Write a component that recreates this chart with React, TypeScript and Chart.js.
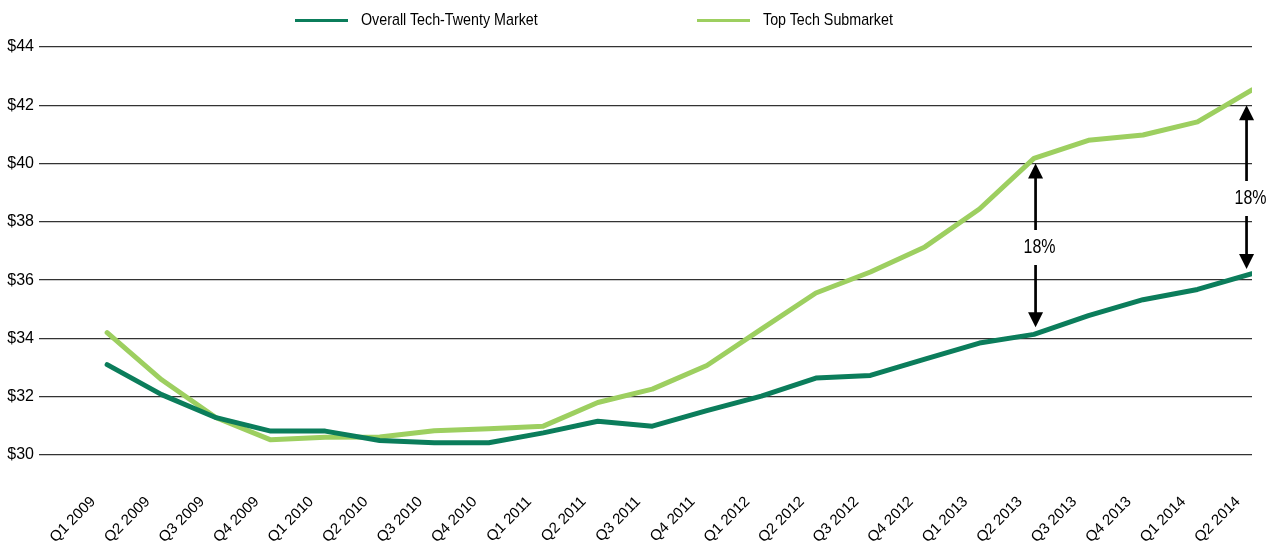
import React, { useEffect, useRef } from 'react';
import { Chart, registerables } from 'chart.js';

Chart.register(...registerables);

const quarters = [
  'Q1 2009', 'Q2 2009', 'Q3 2009', 'Q4 2009',
  'Q1 2010', 'Q2 2010', 'Q3 2010', 'Q4 2010',
  'Q1 2011', 'Q2 2011', 'Q3 2011', 'Q4 2011',
  'Q1 2012', 'Q2 2012', 'Q3 2012', 'Q4 2012',
  'Q1 2013', 'Q2 2013', 'Q3 2013', 'Q4 2013',
  'Q1 2014', 'Q2 2014',
];

const overallTechTwenty = [
  33.1, 32.07, 31.28, 30.82, 30.82, 30.5, 30.42, 30.42,
  30.76, 31.16, 30.99, 31.52, 32.02, 32.64, 32.73, 33.29,
  33.84, 34.14, 34.78, 35.33, 35.68, 36.22,
];

const topTechSubmarket = [
  34.2, 32.58, 31.28, 30.52, 30.61, 30.62, 30.83, 30.9,
  30.99, 31.8, 32.26, 33.07, 34.32, 35.56, 36.28, 37.14,
  38.44, 40.18, 40.8, 40.98, 41.43, 42.53,
];

const yTickValues = [30, 32, 34, 36, 38, 40, 42, 44];

const seriesNames = ['Overall Tech-Twenty Market', 'Top Tech Submarket'];
const seriesColors = ['#0b7d5b', '#9dcf60'];

// gap annotations (in data units)
const arrowIndex = [17.03, 20.9];
const arrowLow = [34.38, 36.38];
const arrowHigh = [40.0, 42.0];
const arrowLabelValue = [37.17, 38.85];
const arrowLabels = ['18%', '18%'];

const FONT = '"Liberation Sans", Arial, sans-serif';

const arrowPlugin = {
  id: 'gapArrows',
  afterDatasetsDraw(chart: any) {
    const { ctx, scales } = chart;
    const x = scales.x;
    const y = scales.y;
    ctx.save();
    ctx.strokeStyle = '#000';
    ctx.fillStyle = '#000';
    ctx.lineWidth = 2.7;
    ctx.font = `20px ${FONT}`;
    ctx.textAlign = 'center';
    ctx.textBaseline = 'middle';
    arrowIndex.forEach((idx, i) => {
      const px = x.getPixelForValue(idx);
      const top = y.getPixelForValue(arrowHigh[i]);
      const bot = y.getPixelForValue(arrowLow[i]);
      const ly = y.getPixelForValue(arrowLabelValue[i]);
      const head = 15;
      const halfW = 7.5;
      ctx.beginPath();
      ctx.moveTo(px, top + head - 1);
      ctx.lineTo(px, ly - 16);
      ctx.moveTo(px, ly + 19);
      ctx.lineTo(px, bot - head + 1);
      ctx.stroke();
      ctx.beginPath();
      ctx.moveTo(px, top);
      ctx.lineTo(px - halfW, top + head);
      ctx.lineTo(px + halfW, top + head);
      ctx.closePath();
      ctx.fill();
      ctx.beginPath();
      ctx.moveTo(px, bot);
      ctx.lineTo(px - halfW, bot - head);
      ctx.lineTo(px + halfW, bot - head);
      ctx.closePath();
      ctx.fill();
      ctx.save();
      ctx.translate(px + 4, ly + 1);
      ctx.scale(0.8, 1);
      ctx.fillText(arrowLabels[i], 0, 0);
      ctx.restore();
    });
    ctx.restore();
  },
};

export default function App() {
  const canvasRef = useRef<HTMLCanvasElement | null>(null);

  useEffect(() => {
    if (!canvasRef.current) return;
    const chart = new Chart(canvasRef.current, {
      type: 'line',
      data: {
        datasets: [
          {
            label: seriesNames[0],
            data: overallTechTwenty.map((v, i) => ({ x: i, y: v })),
            borderColor: seriesColors[0],
            backgroundColor: seriesColors[0],
            borderWidth: 5,
            pointRadius: 0,
            tension: 0,
            borderCapStyle: 'round',
            borderJoinStyle: 'round',
          },
          {
            label: seriesNames[1],
            data: topTechSubmarket.map((v, i) => ({ x: i, y: v })),
            borderColor: seriesColors[1],
            backgroundColor: seriesColors[1],
            borderWidth: 5,
            pointRadius: 0,
            tension: 0,
            borderCapStyle: 'round',
            borderJoinStyle: 'round',
          },
        ],
      },
      options: {
        animation: false,
        responsive: true,
        maintainAspectRatio: false,
        layout: { padding: { top: 47, right: 29, bottom: 0, left: 0 } },
        plugins: {
          legend: { display: false },
          tooltip: { enabled: false },
        },
        scales: {
          x: {
            type: 'linear',
            min: -1.25,
            max: 21,
            grid: { display: false, drawTicks: false },
            border: { display: false },
            afterBuildTicks: (s: any) => {
              s.ticks = quarters.map((_, i) => ({ value: i }));
            },
            afterFit: (s: any) => {
              s.height = 91;
              s.paddingLeft = 0;
              s.paddingRight = 0;
            },
            ticks: {
              autoSkip: false,
              maxRotation: 45,
              minRotation: 45,
              padding: 38,
              labelOffset: -14,
              color: '#000',
              font: { family: FONT, size: 15 },
              callback: (v: any) => quarters[v] ?? '',
            },
          },
          y: {
            min: 30,
            max: 44,
            afterBuildTicks: (s: any) => {
              s.ticks = yTickValues.map((v) => ({ value: v }));
            },
            afterFit: (s: any) => {
              s.width = 39;
            },
            grid: { color: '#333', lineWidth: 1.3, drawTicks: false },
            border: { display: false },
            ticks: {
              padding: 5,
              color: '#000',
              font: { family: FONT, size: 16 },
              callback: (v: any) => '$' + v,
            },
          },
        },
      },
      plugins: [arrowPlugin],
    } as any);
    return () => chart.destroy();
  }, []);

  const legendItem = (i: number, left: number) => (
    <div
      key={i}
      style={{
        position: 'absolute',
        left,
        top: 9,
        display: 'flex',
        alignItems: 'center',
        height: 22,
        fontFamily: FONT,
        fontSize: 17,
        color: '#000',
        whiteSpace: 'nowrap',
      }}
    >
      <span
        style={{
          display: 'inline-block',
          width: 53,
          height: 3,
          background: seriesColors[i],
          marginRight: 13,
        }}
      />
      <span style={{ display: 'inline-block', transform: 'scaleX(0.84)', transformOrigin: 'left center' }}>
        {seriesNames[i]}
      </span>
    </div>
  );

  return (
    <div style={{ position: 'absolute', left: 0, top: 0, width: 1281, height: 546, background: '#fff' }}>
      <div style={{ position: 'absolute', left: 0, top: 0, width: 1281, height: 546 }}>
        <canvas ref={canvasRef} />
      </div>
      {legendItem(0, 295)}
      {legendItem(1, 697)}
    </div>
  );
}
